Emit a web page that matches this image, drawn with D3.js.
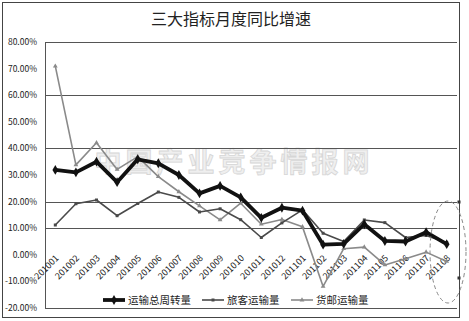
<!DOCTYPE html>
<html>
<head>
<meta charset="utf-8">
<script src="https://cdn.jsdelivr.net/npm/d3@7"></script>
<style>
  body { margin: 0; background: #fff; }
  text { font-family: "Noto Sans CJK SC", "DejaVu Sans", sans-serif; }
</style>
</head>
<body>
<div id="chart"></div>
<script>
var months = ['201001','201002','201003','201004','201005','201006','201007','201008','201009','201010',
              '201011','201012','201101','201102','201103','201104','201105','201106','201107','201108'];
var seriesNames = ['运输总周转量','旅客运输量','货邮运输量'];
var totalTurnover = [31.9,31.0,35.0,27.3,35.9,34.4,30.0,23.1,25.9,21.6,13.9,17.7,16.6,3.8,4.1,11.5,5.2,5.0,8.5,4.0];
var passengers    = [11.2,19.2,20.6,14.7,19.3,23.6,21.6,16.1,17.3,13.2,6.5,12.0,16.9,8.1,5.0,13.1,12.1,6.5,7.3,4.6];
var cargo         = [70.9,33.8,42.1,32.1,36.9,29.4,23.7,18.4,13.1,19.4,11.5,13.3,10.5,-11.9,2.3,2.9,-3.8,-1.5,1.0,-2.5];
var yTicks = [80,70,60,50,40,30,20,10,0,-10,-20];
var gridVals = [80,60,40,20,10,-20];
var title = '三大指标月度同比增速';
var watermark = '中国产业竞争情报网';

var W = 469, H = 321,
    m = {left:45, right:12, top:42, bottom:13};

var svg = d3.select('#chart').append('svg').attr('width',W).attr('height',H);

// outer frame
svg.append('rect').attr('x',2.5).attr('y',2.5).attr('width',457).attr('height',315)
  .attr('fill','#fff').attr('stroke','#444').attr('stroke-width',1);

svg.append('text').attr('x',231).attr('y',25).attr('text-anchor','middle')
  .attr('font-size',16).attr('fill','#222').text(title);

var x = d3.scaleBand().domain(months).range([m.left, W - m.right]);
var y = d3.scaleLinear().domain([-20,80]).range([H - m.bottom, m.top]);
var cx = function(d,i){ return x(months[i]) + x.bandwidth()/2; };

// watermark
svg.append('text').attr('x',234).attr('y',172).attr('text-anchor','middle')
  .attr('font-size',27).attr('font-weight','bold').attr('letter-spacing',4)
  .attr('fill','#efefef').attr('stroke','#d6d6d6').attr('stroke-width',0.8)
  .text(watermark);

// gridlines
svg.selectAll('.grid').data(gridVals).enter().append('line')
  .attr('x1',m.left).attr('x2',W - m.right)
  .attr('y1',function(d){ return Math.round(y(d))+0.5; })
  .attr('y2',function(d){ return Math.round(y(d))+0.5; })
  .attr('stroke','#555').attr('stroke-width',1);

// y axis
svg.append('line').attr('x1',m.left+0.5).attr('x2',m.left+0.5).attr('y1',y(80)).attr('y2',y(-20))
  .attr('stroke','#555');
svg.selectAll('.ytick').data(yTicks).enter().append('text')
  .attr('x',37).attr('y',function(d){ return y(d)+3; })
  .attr('text-anchor','end').attr('font-size',8.5).attr('fill','#222')
  .attr('font-family','"Liberation Sans", Arial, sans-serif')
  .text(function(d){ return d.toFixed(2) + '%'; });

// x labels, rotated at the 0 line
svg.selectAll('.xlab').data(months).enter().append('text')
  .attr('transform',function(d){ return 'translate(' + (x(d)+x.bandwidth()/2+4) + ',' + (y(0)+4) + ') rotate(-45)'; })
  .attr('text-anchor','end').attr('font-size',9).attr('fill','#222')
  .attr('font-family','"Liberation Sans", Arial, sans-serif')
  .text(function(d){ return d; });

var line = d3.line().x(cx).y(function(d){ return y(d); });

var styles = [
  {data: totalTurnover, color:'#111', width:3.8, sym:d3.symbolDiamond, size:28},
  {data: passengers, color:'#4a4a4a', width:1.6, sym:d3.symbolSquare, size:9},
  {data: cargo, color:'#8a8a8a', width:1.6, sym:d3.symbolTriangle, size:10}
];

// draw cargo first, total on top
[2,1,0].forEach(function(k){
  var s = styles[k];
  var g = svg.append('g');
  g.append('path').datum(s.data).attr('d',line)
    .attr('fill','none').attr('stroke',s.color).attr('stroke-width',s.width).attr('stroke-linejoin','round');
  g.selectAll('path.pt').data(s.data).enter().append('path').attr('class','pt')
    .attr('d',d3.symbol().type(s.sym).size(s.size))
    .attr('transform',function(d,i){ return 'translate(' + cx(d,i) + ',' + y(d) + ')'; })
    .attr('fill',s.color);
});

// legend
var legX = [103, 202, 291];
var leg = svg.selectAll('.leg').data(seriesNames).enter().append('g')
  .attr('transform',function(d,i){ return 'translate(' + legX[i] + ',300)'; });
leg.append('line').attr('x1',0).attr('x2',22).attr('y1',0).attr('y2',0)
  .attr('stroke',function(d,i){ return styles[i].color; })
  .attr('stroke-width',function(d,i){ return styles[i].width; });
leg.append('path')
  .attr('d',function(d,i){ return d3.symbol().type(styles[i].sym).size(styles[i].size)(); })
  .attr('transform','translate(11,0)')
  .attr('fill',function(d,i){ return styles[i].color; });
leg.append('text').attr('x',25).attr('y',4).attr('font-size',10.5).attr('fill','#222')
  .text(function(d){ return d; });

// dashed selection ellipse on last month
svg.append('ellipse').attr('cx',448).attr('cy',252).attr('rx',18).attr('ry',51)
  .attr('fill','none').attr('stroke','#888').attr('stroke-width',1).attr('stroke-dasharray','4,3');
svg.selectAll('.handle').data([202,278]).enter().append('rect')
  .attr('x',457.5).attr('y',function(d){ return d-1.5; }).attr('width',3).attr('height',3)
  .attr('fill','#333');
</script>
</body>
</html>
